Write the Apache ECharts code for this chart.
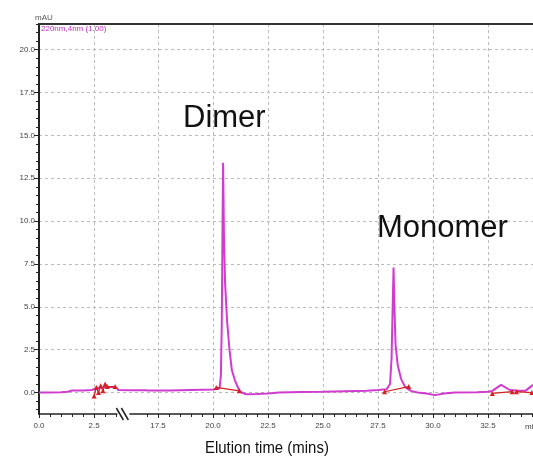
<!DOCTYPE html>
<html>
<head>
<meta charset="utf-8">
<script src="https://cdn.jsdelivr.net/npm/echarts@6/dist/echarts.min.js"></script>
<style>html,body{margin:0;padding:0;background:#fff}#c{width:533px;height:457px}</style>
</head>
<body>
<div id="c"></div>
<script>
// Elution time (min) and absorbance (mAU) of the chromatogram trace
const times = [0.0, 0.5, 1.0, 1.3, 1.5, 2.0, 2.4, 2.6, 2.8, 3.0, 3.3, 3.5, 3.6, 4.2, 4.9,
  17.0, 18.0, 19.0, 20.0, 20.3, 20.36, 20.40, 20.43, 20.46, 20.5, 20.55, 20.64, 20.75, 20.86, 21.0, 21.1, 21.23,
  21.5, 22.0, 22.5, 23.0, 24.0, 25.0, 26.0, 27.0, 27.5, 27.9, 28.05, 28.12, 28.17, 28.21, 28.25, 28.3, 28.4, 28.55,
  28.75, 29.0, 29.3, 29.7, 30.1, 30.5, 31.0, 32.0, 32.5, 32.7, 33.1, 33.5, 33.9, 34.2, 34.55];
const signal = [0.0, 0.0, 0.02, 0.05, 0.12, 0.12, 0.15, 0.25, 0.3, 0.32, 0.33, 0.3, 0.15, 0.14, 0.13,
  0.12, 0.12, 0.15, 0.18, 0.25, 1.0, 4.0, 9.0, 13.4, 9.0, 6.4, 4.2, 2.5, 1.3, 0.7, 0.4, 0.05,
  -0.1, -0.08, -0.05, 0.0, 0.03, 0.05, 0.08, 0.1, 0.15, 0.2, 0.5, 2.0, 5.0, 7.3, 5.0, 2.8, 1.6, 0.8,
  0.3, 0.1, 0.0, -0.05, -0.15, -0.05, 0.0, 0.02, 0.05, 0.1, 0.45, 0.15, 0.1, 0.1, 0.45];
// Red integration baseline marks (null separates segments)
const baseTimes = [2.5, 2.6, 2.7, 2.8, 2.9, 3.0, 3.1, 3.45, null, 20.15, 21.2, null, 27.8, 28.9, null, 32.7, 33.6, null, 33.8, 34.5];
const baseVals  = [-0.2, 0.3, 0.0, 0.4, 0.1, 0.5, 0.35, 0.35, null, 0.3, 0.1, null, 0.05, 0.35, null, -0.05, 0.05, null, 0.05, 0.0];
// Axis ranges and ticks (axis is broken after ~3.6 min and resumes at 17.0 min)
const xSeg1 = [0, 4.9];
const xSeg2 = [17.0, 34.55];
const breakAt = 3.6;
const xMajor1 = [0, 2.5];
const xMajor2 = [17.5, 20, 22.5, 25, 27.5, 30, 32.5];
const yMajor = [0, 2.5, 5, 7.5, 10, 12.5, 15, 17.5, 20];
const yMin = -1.25, yMax = 21.5;

function minorBetween(lo, hi, step, majorStep) {
  const out = [];
  for (let v = Math.ceil(lo / step) * step; v <= hi + 1e-9; v += step) {
    const r = +v.toFixed(3);
    if (Math.abs(r / majorStep - Math.round(r / majorStep)) > 1e-6) out.push(r);
  }
  return out;
}
const yMinor = minorBetween(yMin, yMax, 0.5, 2.5);
const xMinor1 = minorBetween(xSeg1[0], breakAt, 0.5, 2.5);
const xMinor2 = minorBetween(xSeg2[0], xSeg2[1], 0.5, 2.5);

function pick(ts, vs, lo, hi) {
  const out = [];
  ts.forEach((t, i) => {
    if (t === null) { out.push([null, null]); return; }
    if (t >= lo && t <= hi) out.push([t, vs[i]]);
  });
  return out;
}
const sig1 = pick(times, signal, xSeg1[0], xSeg1[1]);
const sig2 = pick(times, signal, xSeg2[0], xSeg2[1]);
const base1 = pick(baseTimes, baseVals, xSeg1[0], xSeg1[1]);
const base2 = pick(baseTimes, baseVals, xSeg2[0], xSeg2[1]);

const TOP = 24, BOTTOM = 43, LEFT = 39, SEG2_LEFT_PX = 147;
const W = 533;
const labelFont = {fontFamily: 'Liberation Sans, Arial, sans-serif', fontSize: 8, color: '#444'};
const gridDash = {color: '#bbb', type: [3, 3], width: 1};
const hidden = {axisLine: {show: false, onZero: false}, axisTick: {show: false}, axisLabel: {show: false}, splitLine: {show: false}};

const chart = echarts.init(document.getElementById('c'), null, {renderer: 'canvas'});
const lineStyleMain = {color: '#d03cd0', width: 2};
const red = '#d42020';
chart.setOption({
  animation: false,
  backgroundColor: '#fff',
  grid: [
    {left: LEFT, top: TOP, right: 0, bottom: BOTTOM},                       // background frame
    {left: LEFT, top: TOP, right: W - SEG2_LEFT_PX, bottom: BOTTOM},        // 0 - break
    {left: SEG2_LEFT_PX, top: TOP, right: 0, bottom: BOTTOM}                // 17 - 34.55 min
  ],
  xAxis: [
    Object.assign({}, hidden, {gridIndex: 0, type: 'value', min: 0, max: 1, position: 'bottom',
      axisLine: {show: true, onZero: false, lineStyle: {color: '#222', width: 1.5}}}),
    Object.assign({}, hidden, {gridIndex: 0, type: 'value', min: 0, max: 1, position: 'top',
      axisLine: {show: true, onZero: false, lineStyle: {color: '#333', width: 2}}}),
    {gridIndex: 1, type: 'value', min: xSeg1[0], max: xSeg1[1], position: 'bottom', offset: 0,
      axisLine: {show: false, onZero: false},
      axisTick: {show: true, length: 4, customValues: xMajor1, lineStyle: {color: '#222'}},
      axisLabel: Object.assign({margin: 8, customValues: xMajor1, formatter: v => v.toFixed(1)}, labelFont),
      splitLine: {show: true, lineStyle: gridDash}},
    Object.assign({}, hidden, {gridIndex: 1, type: 'value', min: xSeg1[0], max: xSeg1[1], position: 'bottom', offset: 0,
      axisTick: {show: true, length: 3, customValues: xMinor1, lineStyle: {color: '#222'}}}),
    {gridIndex: 2, type: 'value', min: xSeg2[0], max: xSeg2[1], position: 'bottom', offset: 0,
      axisLine: {show: false, onZero: false},
      axisTick: {show: true, length: 4, customValues: xMajor2, lineStyle: {color: '#222'}},
      axisLabel: Object.assign({margin: 8, customValues: xMajor2, formatter: v => v.toFixed(1)}, labelFont),
      splitLine: {show: true, lineStyle: gridDash}},
    Object.assign({}, hidden, {gridIndex: 2, type: 'value', min: xSeg2[0], max: xSeg2[1], position: 'bottom', offset: 0,
      axisTick: {show: true, length: 3, customValues: xMinor2, lineStyle: {color: '#222'}}})
  ],
  yAxis: [
    {gridIndex: 0, type: 'value', min: yMin, max: yMax, position: 'left', offset: 0,
      axisLine: {show: true, onZero: false, lineStyle: {color: '#222', width: 2}},
      axisTick: {show: true, length: 5, customValues: yMajor, lineStyle: {color: '#222'}},
      axisLabel: Object.assign({margin: 4, customValues: yMajor, formatter: v => v.toFixed(1)}, labelFont),
      splitLine: {show: true, lineStyle: gridDash}},
    Object.assign({}, hidden, {gridIndex: 0, type: 'value', min: yMin, max: yMax, position: 'left', offset: 0,
      axisTick: {show: true, length: 3, customValues: yMinor, lineStyle: {color: '#222'}}}),
    Object.assign({}, hidden, {gridIndex: 1, type: 'value', min: yMin, max: yMax}),
    Object.assign({}, hidden, {gridIndex: 2, type: 'value', min: yMin, max: yMax})
  ],
  series: [
    {type: 'line', data: sig1, xAxisIndex: 2, yAxisIndex: 2, showSymbol: false, lineStyle: lineStyleMain, z: 3},
    {type: 'line', data: sig2, xAxisIndex: 4, yAxisIndex: 3, showSymbol: false, lineStyle: lineStyleMain, z: 3},
    {type: 'line', data: base1, xAxisIndex: 2, yAxisIndex: 2, connectNulls: false, showSymbol: true,
      symbol: 'triangle', symbolSize: 5, itemStyle: {color: red}, lineStyle: {color: red, width: 1.2}, z: 4},
    {type: 'line', data: base2, xAxisIndex: 4, yAxisIndex: 3, connectNulls: false, showSymbol: true,
      symbol: 'triangle', symbolSize: 5, itemStyle: {color: red}, lineStyle: {color: red, width: 1.2}, z: 4}
  ]
});

// break marker "//" drawn on the bottom axis just after the break point
const bx = chart.convertToPixel({xAxisIndex: 2}, breakAt) + 2;
const yAx = chart.convertToPixel({yAxisIndex: 0}, yMin);
chart.setOption({graphic: [
  {id: 'mau', type: 'text', left: 35, top: 14, style: {text: 'mAU', font: '8px Liberation Sans', fill: '#555'}},
  {id: 'det', type: 'text', left: 41, top: 25, style: {text: '220nm,4nm (1.00)', font: '8px Liberation Sans', fill: '#c030c0'}},
  {id: 'dimer', type: 'text', left: 183, top: 103, style: {text: 'Dimer', font: '31px Liberation Sans', fill: '#111'}},
  {id: 'mono', type: 'text', left: 377, top: 213, style: {text: 'Monomer', font: '31px Liberation Sans', fill: '#111'}},
  {id: 'xname', type: 'text', x: 205, y: 440, scaleX: 0.88, style: {text: 'Elution time (mins)', font: '17px Liberation Sans', fill: '#111'}},
  {id: 'unit', type: 'text', left: 525, top: 423, style: {text: 'min', font: '8px Liberation Sans', fill: '#444'}},
  {id: 'brkbg', type: 'rect', shape: {x: bx - 3, y: yAx - 3, width: 12, height: 6}, style: {fill: '#fff'}, z: 10},
  {id: 'brk1', type: 'line', shape: {x1: bx - 4, y1: yAx - 6, x2: bx + 3, y2: yAx + 6}, style: {stroke: '#222', lineWidth: 1.5}, z: 11},
  {id: 'brk2', type: 'line', shape: {x1: bx + 1, y1: yAx - 6, x2: bx + 8, y2: yAx + 6}, style: {stroke: '#222', lineWidth: 1.5}, z: 11}
]});
</script>
</body>
</html>
